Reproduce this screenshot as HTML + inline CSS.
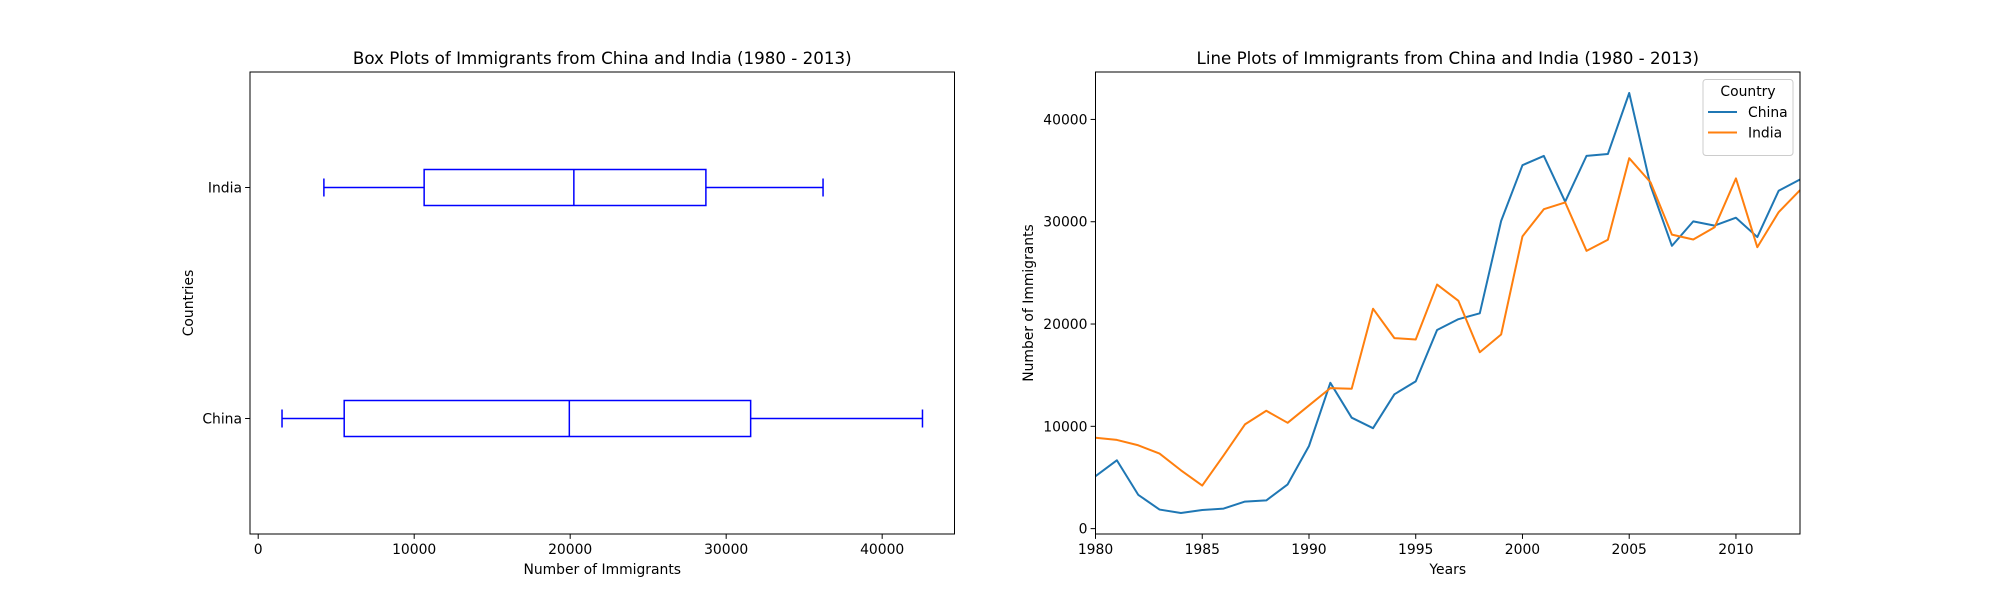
<!DOCTYPE html>
<html><head><meta charset="utf-8"><style>
html,body{margin:0;padding:0;background:#fff;}
svg{display:block;font-family:"DejaVu Sans","Liberation Sans",sans-serif;}
</style></head><body>
<svg id="fig" width="2000" height="600" viewBox="0 0 2000 600" xmlns="http://www.w3.org/2000/svg">
<rect width="2000" height="600" fill="#fff"/>
<g id="left"></g>
<g id="right"></g>
</svg>
<script>
const years = [1980,1981,1982,1983,1984,1985,1986,1987,1988,1989,1990,1991,1992,1993,1994,1995,1996,1997,1998,1999,2000,2001,2002,2003,2004,2005,2006,2007,2008,2009,2010,2011,2012,2013];
const china = [5123,6682,3308,1863,1527,1816,1960,2643,2758,4323,8076,14255,10846,9817,13128,14398,19415,20475,21049,30069,35529,36434,31961,36439,36619,42584,33518,27642,30037,29622,30391,28502,33024,34129];
const india = [8880,8670,8147,7338,5704,4211,7150,10189,11522,10343,12041,13734,13673,21496,18620,18489,23859,22268,17241,18974,28572,31223,31889,27155,28235,36210,33848,28742,28261,29456,34235,27509,30933,33087];
const boxCategories = ["China","India"];
const lineTicksX = [1980,1985,1990,1995,2000,2005,2010];
const valueTicks = [0,10000,20000,30000,40000];

const NS="http://www.w3.org/2000/svg";
function mk(parent,tag,attrs,text){const e=document.createElementNS(NS,tag);for(const k in attrs)e.setAttribute(k,attrs[k]);if(text!==undefined)e.textContent=text;parent.appendChild(e);return e;}
function pct(arr,p){const s=[...arr].sort((a,b)=>a-b);const i=(s.length-1)*p;const lo=Math.floor(i),hi=Math.ceil(i);return s[lo]+(s[hi]-s[lo])*(i-lo);}
function stats(arr){const q1=pct(arr,0.25),q3=pct(arr,0.75),med=pct(arr,0.5),iqr=q3-q1;
 const inside=arr.filter(v=>v>=q1-1.5*iqr&&v<=q3+1.5*iqr);return {q1,q3,med,lo:Math.min(...inside),hi:Math.max(...inside)};}

// ---------- LEFT: box plot ----------
const L=document.getElementById('left');
const LX0=250,LX1=954.5,TOP=72,BOT=534;
const allStats=[stats(china),stats(india)];
const bmin=Math.min(...allStats.map(s=>s.lo)),bmax=Math.max(...allStats.map(s=>s.hi));
const bxMin=bmin-(bmax-bmin)*0.05,bxMax=bmax+(bmax-bmin)*0.05;
const bx=v=>LX0+(v-bxMin)/(bxMax-bxMin)*(LX1-LX0);
const by=p=>BOT-(p-0.5)/2*(BOT-TOP);
mk(L,'text',{x:(LX0+LX1)/2,y:64,'font-size':16.7,'text-anchor':'middle',},'Box Plots of Immigrants from China and India (1980 - 2013)');
boxCategories.forEach((c,i)=>{
 const s=allStats[i],y=by(i+1),h=18,ch=9;
 const g=mk(L,'g',{stroke:'#0000ff','stroke-width':1.5,fill:'none'});
 
 
 mk(g,'rect',{x:bx(s.q1),y:y-h,width:bx(s.q3)-bx(s.q1),height:2*h});
 mk(g,'line',{x1:bx(s.med),x2:bx(s.med),y1:y-h,y2:y+h});
 mk(g,'line',{x1:bx(s.lo),x2:bx(s.q1),y1:y,y2:y});
 mk(g,'line',{x1:bx(s.q3),x2:bx(s.hi),y1:y,y2:y});
 mk(g,'line',{x1:bx(s.lo),x2:bx(s.lo),y1:y-ch,y2:y+ch});
 mk(g,'line',{x1:bx(s.hi),x2:bx(s.hi),y1:y-ch,y2:y+ch});
 mk(L,'line',{x1:LX0-4.9,x2:LX0,y1:y,y2:y,stroke:'#000','stroke-width':1});
 const t=mk(L,'text',{x:LX0-8,y:y+5,'font-size':13.9,'text-anchor':'end'},c);
 
 
});
valueTicks.forEach(v=>{
 const x=bx(v);
 mk(L,'line',{x1:x,x2:x,y1:BOT,y2:BOT+4.9,stroke:'#000','stroke-width':1});
 const t=mk(L,'text',{x:x,y:BOT+20,'font-size':13.9,'text-anchor':'middle'},String(v));
 
 
});
mk(L,'rect',{x:LX0,y:TOP,width:LX1-LX0,height:BOT-TOP,fill:'none',stroke:'#000','stroke-width':1,});
mk(L,'text',{x:(LX0+LX1)/2,y:574,'font-size':13.9,'text-anchor':'middle',},'Number of Immigrants');
mk(L,'text',{x:0,y:0,'font-size':13.9,'text-anchor':'middle',transform:`translate(193,${(TOP+BOT)/2}) rotate(-90)`,},'Countries');

// ---------- RIGHT: line plot ----------
const R=document.getElementById('right');
const RX0=1095.5,RX1=1800;
const all=china.concat(india),vmin=Math.min(...all),vmax=Math.max(...all);
const yMin=vmin-(vmax-vmin)*0.05,yMax=vmax+(vmax-vmin)*0.05;
const lx=v=>RX0+(v-years[0])/(years[years.length-1]-years[0])*(RX1-RX0);
const ly=v=>BOT-(v-yMin)/(yMax-yMin)*(BOT-TOP);
mk(R,'text',{x:(RX0+RX1)/2,y:64,'font-size':16.7,'text-anchor':'middle',},'Line Plots of Immigrants from China and India (1980 - 2013)');
const series=[["China",china,"#1f77b4"],["India",india,"#ff7f0e"]];
series.forEach(([n,arr,col])=>{
 const p=mk(R,'polyline',{points:arr.map((v,i)=>lx(years[i])+','+ly(v)).join(' '),fill:'none',stroke:col,'stroke-width':2,'stroke-linejoin':'round'});
 
 
});
lineTicksX.forEach(v=>{
 const x=lx(v);
 mk(R,'line',{x1:x,x2:x,y1:BOT,y2:BOT+4.9,stroke:'#000','stroke-width':1});
 const t=mk(R,'text',{x:x,y:BOT+20,'font-size':13.9,'text-anchor':'middle'},String(v));
 
 
});
valueTicks.forEach(v=>{
 const y=ly(v);
 mk(R,'line',{x1:RX0-4.9,x2:RX0,y1:y,y2:y,stroke:'#000','stroke-width':1});
 const t=mk(R,'text',{x:RX0-8,y:y+5,'font-size':13.9,'text-anchor':'end'},String(v));
 
 
});
mk(R,'rect',{x:RX0,y:TOP,width:RX1-RX0,height:BOT-TOP,fill:'none',stroke:'#000','stroke-width':1,});
mk(R,'text',{x:(RX0+RX1)/2,y:574,'font-size':13.9,'text-anchor':'middle',},'Years');
mk(R,'text',{x:0,y:0,'font-size':13.9,'text-anchor':'middle',transform:`translate(1033,${(TOP+BOT)/2}) rotate(-90)`,},'Number of Immigrants');
// legend
const lg=mk(R,'g',{});


mk(lg,'rect',{x:1703,y:79.5,width:90,height:76,rx:3,fill:'#fff','fill-opacity':0.8,stroke:'#cccccc','stroke-width':1});
mk(lg,'text',{x:1748,y:96,'font-size':13.9,'text-anchor':'middle'},'Country');
series.forEach(([n,arr,col],i)=>{
 const y=112+i*20.5;
 const e=mk(lg,'g',{});
 
 
 mk(e,'line',{x1:1708,x2:1737,y1:y,y2:y,stroke:col,'stroke-width':2});
 mk(e,'text',{x:1748,y:y+5,'font-size':13.9},n);
});
</script>
</body></html>
